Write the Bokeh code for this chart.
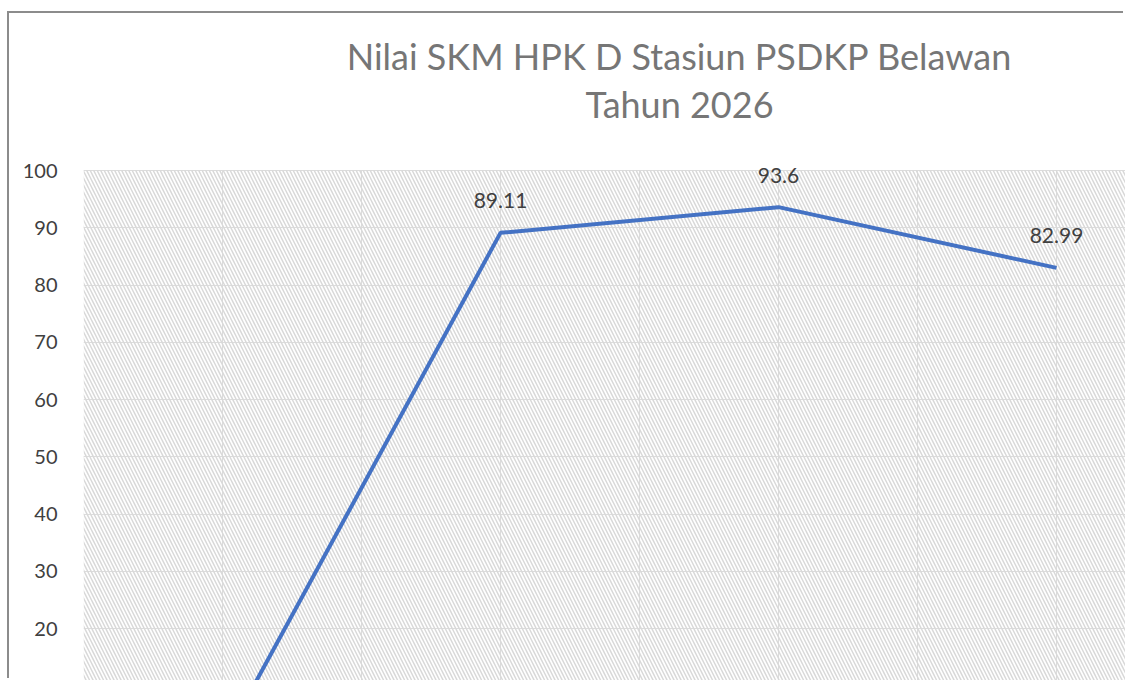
from bokeh.plotting import figure
from bokeh.models import Range1d, BoxAnnotation, Label, ColumnDataSource, FixedTicker, SingleIntervalTicker
from bokeh.core.properties import value
from bokeh.embed import file_html
from bokeh.resources import INLINE

# Data
categories = ["Triwulan I", "Triwulan II", "Triwulan III", "Triwulan IV"]
positions = [1, 2, 3, 4]
values = [0, 89.11, 93.6, 82.99]
labels = ["", "89.11", "93.6", "82.99"]
y_ticks = [10, 20, 30, 40, 50, 60, 70, 80, 90, 100]
title_lines = ["Nilai SKM HPK D Stasiun PSDKP Belawan", "Tahun 2026"]

W, H = 1116, 667
PX_PER_UNIT_Y = 5.725
p = figure(width=W, height=H, output_backend="svg", toolbar_location=None,
           title_location=None,
           x_range=Range1d(0.5, 0.5 + (W - 74) / 278.0),
           y_range=Range1d(100 - (H - 157) / PX_PER_UNIT_Y, 100 + 157 / PX_PER_UNIT_Y),
           min_border_left=74, min_border_top=0, min_border_bottom=0, min_border_right=0)
p.styles = {"margin-left": "9px", "margin-top": "13px",
            "box-shadow": "-2px -2px 0px 0px #8c8c8c"}
p.outline_line_color = None
p.background_fill_color = "white"
p.border_fill_color = "white"

p.xaxis.visible = False
yax = p.yaxis[0]
yax.ticker = FixedTicker(ticks=y_ticks)
yax.axis_line_color = None
yax.major_tick_line_color = None
yax.minor_tick_line_color = None
yax.major_label_standoff = 20
yax.major_label_text_font = "Lato"
yax.major_label_text_font_size = "20px"
yax.major_label_text_color = "#404040"

p.xgrid.ticker = SingleIntervalTicker(interval=0.5)
p.xgrid.grid_line_color = "#dcdcdc"
p.xgrid.cross_bounds = (0, 100)
p.ygrid.ticker = FixedTicker(ticks=y_ticks)
p.ygrid.grid_line_color = "#dcdcdc"

hatch = BoxAnnotation(top=100, fill_color=None, fill_alpha=0, line_color=None,
                      hatch_pattern="\\", hatch_color="#d9d9d9", hatch_scale=7,
                      hatch_weight=1.5, level="underlay")
p.add_layout(hatch)

src = ColumnDataSource(dict(x=positions, y=values, t=labels))
p.line("x", "y", source=src, line_color="#4472C4", line_width=4)
p.text("x", "y", text="t", source=src, y_offset=-32, text_align="center",
       text_baseline="middle", text_font=value("Lato"), text_font_size="21px",
       text_color="#404040")

for txt, yy in zip(title_lines, [42, 90]):
    p.add_layout(Label(x=670, y=yy, x_units="canvas", y_units="canvas", text=txt,
                       text_align="center", text_baseline="alphabetic",
                       text_font="Lato", text_font_size="36px", text_color="#767676"))

open("out.html", "w").write(file_html(p, INLINE))
